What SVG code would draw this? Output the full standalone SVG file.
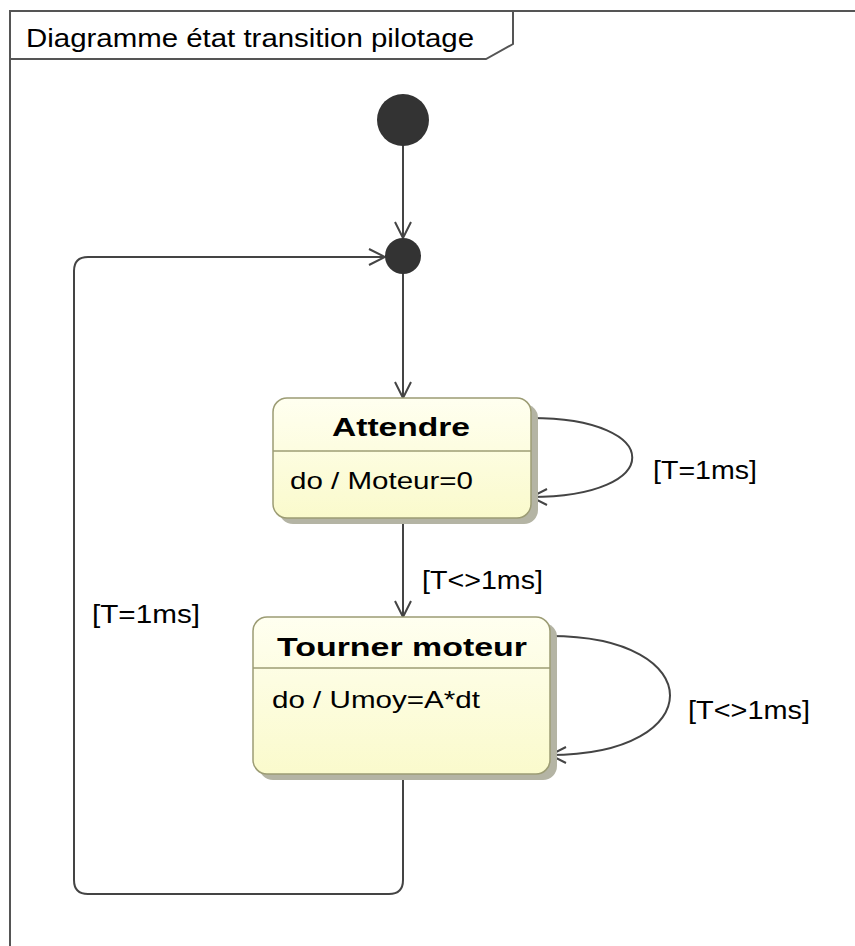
<svg xmlns="http://www.w3.org/2000/svg" width="855" height="946" viewBox="0 0 855 946">
  <style>
    .frame { fill: none; stroke: #555; stroke-width: 2; }
    .edge { fill: none; stroke: #444; stroke-width: 2; }
    .state { fill: url(#stateFill); stroke: #9c9c74; stroke-width: 1.5; }
    .shadow { fill: #b4b4a4; }
    .sep { stroke: #9c9c74; stroke-width: 1.5; }
    .dot { fill: #333; }
    .title { font-family: "Liberation Sans", Arial, sans-serif; font-size: 25px; fill: #000; }
    .name { font-family: "Liberation Sans", Arial, sans-serif; font-size: 26px; font-weight: bold; fill: #000; }
    .body { font-family: "Liberation Sans", Arial, sans-serif; font-size: 24px; fill: #000; }
    .label { font-family: "Liberation Sans", Arial, sans-serif; font-size: 25px; fill: #000; }
  </style>
  <defs>
    <linearGradient id="stateFill" x1="0" y1="0" x2="0" y2="1">
      <stop offset="0" stop-color="#fffff0"/>
      <stop offset="1" stop-color="#fafacc"/>
    </linearGradient>
    <marker id="open" viewBox="0 0 20 20" refX="18" refY="10" markerWidth="20" markerHeight="20" markerUnits="userSpaceOnUse" orient="auto">
      <path d="M2,2 L18,10 L2,18" fill="none" stroke="#444" stroke-width="2"/>
    </marker>
  </defs>

  <rect width="855" height="946" fill="#fff"/>

  <!-- diagram frame with name tab -->
  <g id="frame">
    <path class="frame" d="M10,946 L10,11 L855,11"/>
    <path class="frame" d="M10,59 L486,59 L513,44 L513,11"/>
    <text class="title" x="26" y="47" textLength="448" lengthAdjust="spacingAndGlyphs">Diagramme état transition pilotage</text>
  </g>

  <!-- transitions -->
  <g id="connectors">
    <line class="edge" x1="403" y1="140" x2="403" y2="238" marker-end="url(#open)"/>
    <line class="edge" x1="403" y1="272" x2="403" y2="398" marker-end="url(#open)"/>
    <line class="edge" x1="403" y1="518" x2="403" y2="617" marker-end="url(#open)"/>
    <path class="edge" d="M403,775 L403,880 Q403,894 389,894 L88,894 Q74,894 74,880 L74,271 Q74,257 88,257 L385,257" marker-end="url(#open)"/>
    <path class="edge" d="M531,418 C666,418 666,497 531,497" marker-end="url(#open)"/>
    <path class="edge" d="M550,636 C710,636 710,755 550,755" marker-end="url(#open)"/>
    <text class="label" x="422" y="589" textLength="121" lengthAdjust="spacingAndGlyphs">[T&lt;&gt;1ms]</text>
    <text class="label" x="653" y="479" textLength="104" lengthAdjust="spacingAndGlyphs">[T=1ms]</text>
    <text class="label" x="688" y="719" textLength="122" lengthAdjust="spacingAndGlyphs">[T&lt;&gt;1ms]</text>
    <text class="label" x="92" y="623" textLength="108" lengthAdjust="spacingAndGlyphs">[T=1ms]</text>
  </g>

  <!-- initial pseudostate -->
  <g id="initial">
    <circle class="dot" cx="403" cy="120" r="26"/>
  </g>

  <!-- junction -->
  <g id="junction">
    <circle class="dot" cx="403" cy="256" r="18"/>
  </g>

  <!-- state: Attendre -->
  <g id="attendre">
    <rect class="shadow" x="279" y="404" width="259" height="120" rx="14"/>
    <rect class="state" x="273" y="398" width="258" height="120" rx="14"/>
    <line class="sep" x1="273" y1="451" x2="531" y2="451"/>
    <text class="name" x="332" y="436" textLength="138" lengthAdjust="spacingAndGlyphs">Attendre</text>
    <text class="body" x="290" y="489" textLength="183" lengthAdjust="spacingAndGlyphs">do / Moteur=0</text>
  </g>

  <!-- state: Tourner moteur -->
  <g id="tourner-moteur">
    <rect class="shadow" x="259" y="623" width="298" height="157" rx="14"/>
    <rect class="state" x="253" y="617" width="297" height="157" rx="14"/>
    <line class="sep" x1="253" y1="668" x2="550" y2="668"/>
    <text class="name" x="277" y="656" textLength="250" lengthAdjust="spacingAndGlyphs">Tourner moteur</text>
    <text class="body" x="272" y="708" textLength="208" lengthAdjust="spacingAndGlyphs">do / Umoy=A*dt</text>
  </g>
</svg>
